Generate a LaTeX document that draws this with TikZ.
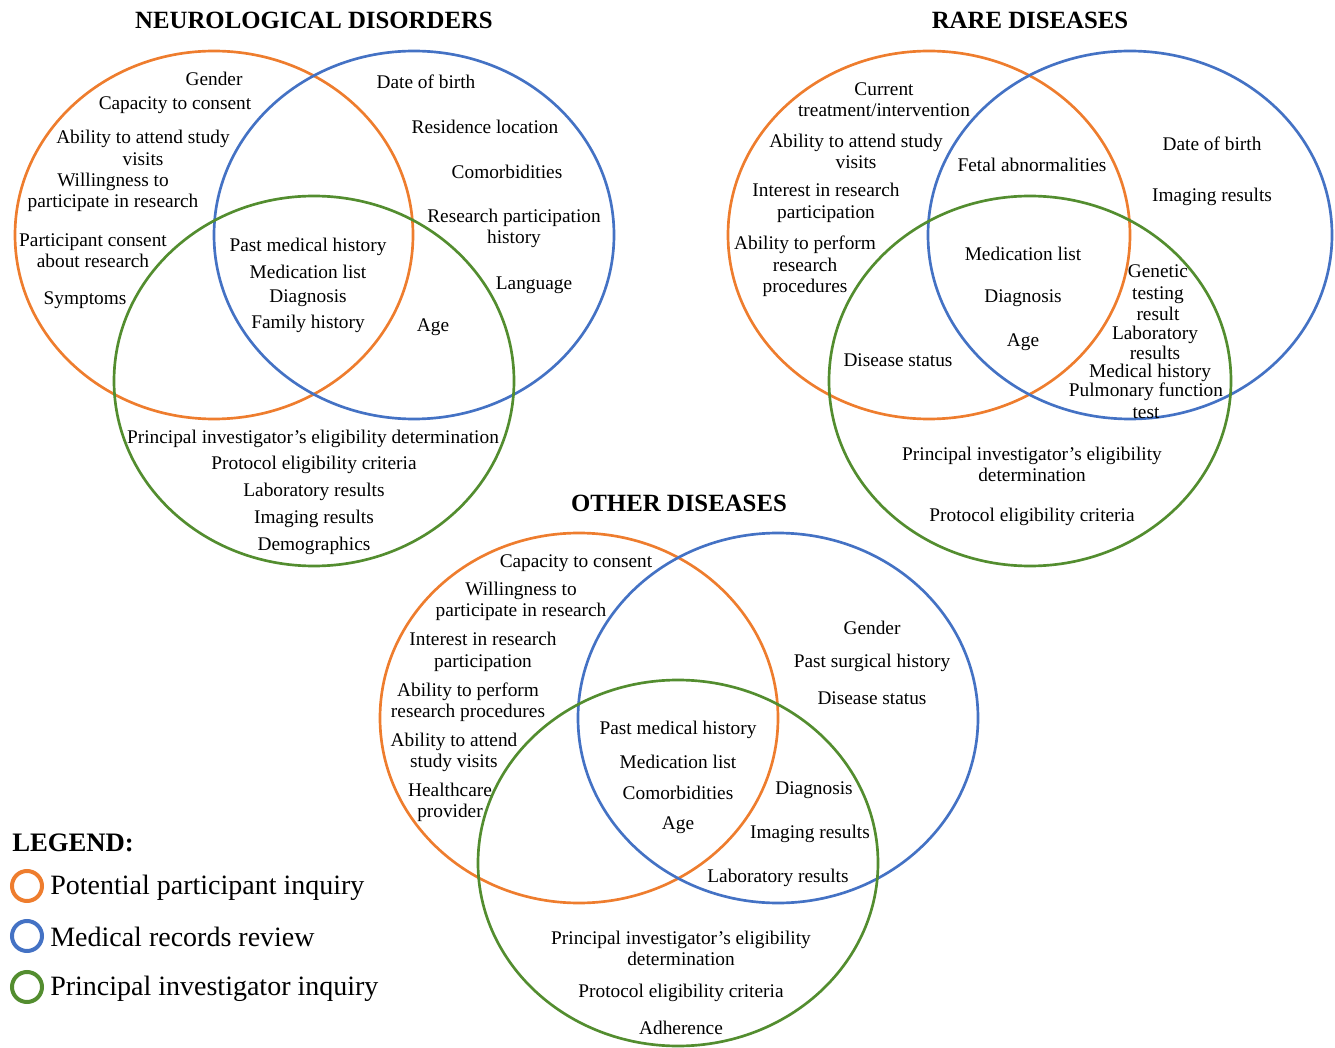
\documentclass[tikz,border=0pt]{standalone}
\usepackage{fontspec}
\setmainfont{Liberation Serif}
\usetikzlibrary{positioning}
\definecolor{vorange}{HTML}{EE7D2E}
\definecolor{vblue}{HTML}{4472C4}
\definecolor{vgreen}{HTML}{538D2F}
\begin{document}
\begin{tikzpicture}[x=0.75pt,y=-0.75pt,
        every node/.style={inner sep=0pt},
        txt/.style={align=center,font=\fontsize{14.5}{16.1}\selectfont,yshift=-1.5pt},
        ttl/.style={font=\fontsize{18.6}{20}\selectfont\bfseries,yshift=-1pt},
        leg/.style={font=\fontsize{21}{24}\selectfont,anchor=west,yshift=-1pt},
        ring/.style={line width=2pt},
        orng/.style={ring,color=vorange},
        blu/.style={ring,color=vblue},
        grn/.style={ring,color=vgreen},
        mark ring/.style={line width=3pt},
  ]
    \useasboundingbox (0,0) rectangle (1335,1048);

    % neurological disorders
    \draw[orng] (214,235) ellipse [x radius=199, y radius=184];
    \draw[blu] (414,235) ellipse [x radius=200, y radius=184];
    \draw[grn] (314,381) ellipse [x radius=200, y radius=185];
    \node[ttl] (nd) at (314,19) {NEUROLOGICAL DISORDERS};
    \node[txt] (nd-gen) at (214,77) {Gender};
    \node[txt] (nd-cap) at (175,103) {Capacity to consent};
    \node[txt] (nd-att) at (143,146) {Ability to attend study\\visits};
    \node[txt] (nd-wil) at (113,190.5) {Willingness to\\participate in research};
    \node[txt] (nd-con) at (93,248.5) {Participant consent\\about research};
    \node[txt] (nd-sym) at (85,298) {Symptoms};
    \node[txt] (nd-dob) at (426,80) {Date of birth};
    \node[txt] (nd-res) at (485,125) {Residence location};
    \node[txt] (nd-com) at (507,170) {Comorbidities};
    \node[txt] (nd-rph) at (514,226.5) {Research participation\\history};
    \node[txt] (nd-lan) at (534,283) {Language};
    \node[txt] (nd-pmh) at (308,245) {Past medical history};
    \node[txt] (nd-med) at (308,270) {Medication list};
    \node[txt] (nd-dia) at (308,296) {Diagnosis};
    \node[txt] (nd-fam) at (308,322) {Family history};
    \node[txt] (nd-age) at (433,325) {Age};
    \node[txt] (nd-pie) at (313,437) {Principal investigator’s eligibility determination};
    \node[txt] (nd-pec) at (314,463) {Protocol eligibility criteria};
    \node[txt] (nd-lab) at (314,490) {Laboratory results};
    \node[txt] (nd-img) at (314,517) {Imaging results};
    \node[txt] (nd-dem) at (314,544) {Demographics};

    % rare diseases
    \draw[orng] (929,235) ellipse [x radius=201, y radius=184];
    \draw[blu] (1130,235) ellipse [x radius=202, y radius=184];
    \draw[grn] (1030,381) ellipse [x radius=201, y radius=185];
    \node[ttl] (rd) at (1030,19) {RARE DISEASES};
    \node[txt] (rd-cur) at (884,97.5) {Current\\treatment/intervention};
    \node[txt] (rd-att) at (856,149.5) {Ability to attend study\\visits};
    \node[txt] (rd-int) at (826,201) {Interest in research\\participation};
    \node[txt] (rd-per) at (805,264.5) {Ability to perform\\research\\procedures};
    \node[txt] (rd-fet) at (1032,163) {Fetal abnormalities};
    \node[txt] (rd-dob) at (1212,142) {Date of birth};
    \node[txt] (rd-img) at (1212,195) {Imaging results};
    \node[txt] (rd-med) at (1023,252) {Medication list};
    \node[txt] (rd-dia) at (1023,296) {Diagnosis};
    \node[txt] (rd-age) at (1023,340) {Age};
    \node[txt] (rd-dis) at (898,358) {Disease status};
    \node[txt] (rd-gen) at (1158,291) {Genetic\\testing\\result};
    \node[txt,font=\fontsize{14.5}{15.4}\selectfont] (rd-lab) at (1155,341) {Laboratory\\results};
    \node[txt] (rd-mhx) at (1150,371) {Medical history};
    \node[txt] (rd-pul) at (1146,399) {Pulmonary function\\test};
    \node[txt] (rd-pie) at (1032,462.5) {Principal investigator’s eligibility\\determination};
    \node[txt] (rd-pec) at (1032,515) {Protocol eligibility criteria};

    % other diseases
    \draw[orng] (579,718) ellipse [x radius=199, y radius=185];
    \draw[blu] (778,718) ellipse [x radius=200, y radius=185];
    \draw[grn] (678,863) ellipse [x radius=200, y radius=183];
    \node[ttl] (od) at (679,502) {OTHER DISEASES};
    \node[txt] (od-cap) at (576,561) {Capacity to consent};
    \node[txt] (od-wil) at (521,599.5) {Willingness to\\participate in research};
    \node[txt] (od-int) at (483,650) {Interest in research\\participation};
    \node[txt] (od-per) at (468,700.5) {Ability to perform\\research procedures};
    \node[txt] (od-att) at (454,750.5) {Ability to attend\\study visits};
    \node[txt] (od-hcp) at (450,800.5) {Healthcare\\provider};
    \node[txt] (od-gen) at (872,626) {Gender};
    \node[txt] (od-psh) at (872,661) {Past surgical history};
    \node[txt] (od-dis) at (872,696) {Disease status};
    \node[txt] (od-pmh) at (678,728) {Past medical history};
    \node[txt] (od-med) at (678,760) {Medication list};
    \node[txt] (od-com) at (678,791) {Comorbidities};
    \node[txt] (od-age) at (678,823) {Age};
    \node[txt] (od-dia) at (814,788) {Diagnosis};
    \node[txt] (od-img) at (810,832) {Imaging results};
    \node[txt] (od-lab) at (778,876) {Laboratory results};
    \node[txt] (od-pie) at (681,946.5) {Principal investigator’s eligibility\\determination};
    \node[txt] (od-pec) at (681,991) {Protocol eligibility criteria};
    \node[txt] (od-adh) at (681,1026) {Adherence};

    % legend
    \node[font=\fontsize{20}{22}\selectfont\bfseries,anchor=west,yshift=-1pt] (lg) at (12,842) {LEGEND:};
    \draw[mark ring,vorange] (27,886) circle [radius=15];
    \draw[mark ring,vblue] (27,936) circle [radius=15];
    \draw[mark ring,vgreen] (27,987) circle [radius=15];
    \node[leg] (lg-pp) at (50,886) {Potential participant inquiry};
    \node[leg] (lg-mr) at (50,936) {Medical records review};
    \node[leg] (lg-pi) at (50,987) {Principal investigator inquiry};
\end{tikzpicture}
\end{document}
